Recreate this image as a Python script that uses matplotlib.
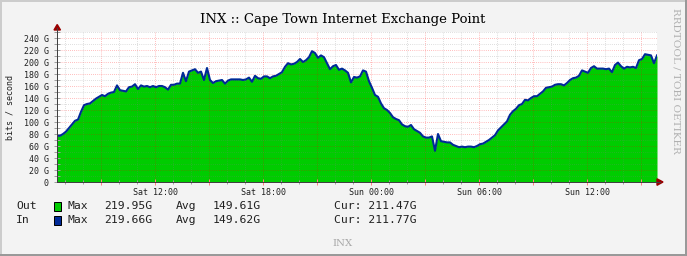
import numpy as np
import matplotlib.pyplot as plt
from matplotlib.lines import Line2D
from matplotlib.patches import Polygon, Rectangle
from matplotlib.ticker import MultipleLocator, FuncFormatter

W, H = 687, 256

title = "INX :: Cape Town Internet Exchange Point"
start_hour = 6 + 33.33 / 60   # Sat 06:33
step_hours = 10 / 60          # one reading every 10 minutes
day_names = ["Sat", "Sun"]

# traffic in Gbit/s (Out and In overlap almost exactly)
traffic_gbps = [
    77, 77, 80, 84, 90, 96, 102, 104, 117, 128,
    130, 131, 135, 139, 142, 145, 143, 147, 149, 150,
    161, 153, 152, 151, 158, 159, 163, 155, 161, 159,
    160, 158, 160, 158, 160,
    160, 158, 154, 162, 162, 164, 164, 182, 168, 184,
    186, 188, 182, 184, 170, 190, 170, 165, 168, 169,
    170, 164, 169, 171, 171, 171, 171, 170, 171, 174,
    167, 177, 173,
    172, 176, 176, 173, 176, 177, 180, 183, 192, 198,
    196, 197, 200, 205, 200, 203, 208, 218, 215, 207,
    211, 208, 198, 188, 193, 195, 187, 189, 186, 182,
    166, 175, 174,
    176, 186, 184, 168, 157, 145, 142, 131, 123, 120,
    115, 108, 105, 103, 96, 93, 92, 95, 88, 85,
    82, 76, 74, 74, 76, 52, 80, 68, 67, 66,
    66, 62, 60, 58,
    59, 58, 59, 59, 58, 60, 63, 64, 67, 70,
    74, 78, 86, 91, 96, 101, 112, 118, 122, 128,
    130, 137, 136, 140, 143, 143, 147, 151, 157, 158,
    159, 162, 163,
    163, 161, 165, 170, 173, 174, 177, 186, 184, 182,
    190, 193, 189, 189, 189, 188, 189, 183, 195, 199,
    193, 189, 192, 191, 192, 190, 203, 205, 213, 212,
    211, 198, 211,
]

series_names = ["Out", "In"]
max_vals = ["219.95G", "219.66G"]
avg_vals = ["149.61G", "149.62G"]
cur_vals = ["211.47G", "211.77G"]

GREEN = "#00cc00"
BLUE = "#002a97"
MONO = "DejaVu Sans Mono"
SERIF = "DejaVu Serif"


def fx(x):
    return x / W


def fy(y):
    return 1 - y / H


def main():
    fig = plt.figure(figsize=(W / 100, H / 100), dpi=100, facecolor="#f3f3f3")
    ax = fig.add_axes([fx(57), fy(182), 600 / W, 150 / H])
    ax.set_facecolor("white")

    hours = start_hour + step_hours * np.arange(len(traffic_gbps))
    ax.fill_between(hours, traffic_gbps, 0, color=GREEN, linewidth=0, zorder=1)
    ax.plot(hours, traffic_gbps, color=BLUE, lw=1.5, zorder=3)

    ax.set_xlim(hours[0], hours[-1])
    ax.set_ylim(0, 250)

    ax.xaxis.set_major_locator(MultipleLocator(3))
    ax.xaxis.set_minor_locator(MultipleLocator(1))
    ax.yaxis.set_major_locator(MultipleLocator(20))
    ax.yaxis.set_minor_locator(MultipleLocator(10))

    def xfmt(v, pos):
        h = int(round(v))
        if h % 6:
            return ""
        return f"{day_names[h // 24]} {h % 24:02d}:00"

    def yfmt(v, pos):
        return "0" if v == 0 else f"{v:.0f} G"

    ax.xaxis.set_major_formatter(FuncFormatter(xfmt))
    ax.yaxis.set_major_formatter(FuncFormatter(yfmt))

    ax.set_axisbelow(False)
    dots = (0, (0.7, 1.4))
    ax.grid(which="major", color="#ff0000", alpha=0.35, lw=0.72, ls=dots)
    ax.grid(which="minor", color="#808080", alpha=0.35, lw=0.72, ls=dots)

    for s in ax.spines.values():
        s.set_visible(False)

    ax.tick_params(axis="both", which="both", direction="inout",
                   labelsize=6, labelcolor="#202020", width=0.72)
    ax.tick_params(axis="x", which="major", length=4, color="#ff8080", pad=2)
    ax.tick_params(axis="x", which="minor", length=3, color="#a0a0a0")
    ax.tick_params(axis="y", which="both", length=4, color="#a0a0a0", pad=4)
    for lab in ax.get_xticklabels() + ax.get_yticklabels():
        lab.set_family(MONO)

    # axis lines and arrows
    fig.add_artist(Line2D([fx(57), fx(57)], [fy(182), fy(28)], color="#404040", lw=0.72))
    fig.add_artist(Line2D([fx(57), fx(660)], [fy(182), fy(182)], color="#404040", lw=0.72))
    fig.add_artist(Polygon([(fx(54), fy(30)), (fx(60.5), fy(30)), (fx(57.2), fy(24.5))],
                           closed=True, color="#990000", transform=fig.transFigure))
    fig.add_artist(Polygon([(fx(657), fy(178.8)), (fx(657), fy(185.3)), (fx(663), fy(182))],
                           closed=True, color="#990000", transform=fig.transFigure))

    fig.text(fx(10), fy(107), "bits / second", rotation=90, family=MONO,
             size=6, ha="center", va="center", color="#202020")
    fig.text(fx(343), fy(20), title, family=SERIF, size=9.5, ha="center", va="center")
    fig.text(fx(676), fy(81), "RRDTOOL / TOBI OETIKER", rotation=270, family=SERIF,
             size=7.5, ha="center", va="center", color="#b0b0b0")
    fig.text(fx(343), fy(243), "INX", family=SERIF, size=7.3, ha="center",
             va="center", color="#a8a8a8")

    colors = [GREEN, BLUE]
    for i, name in enumerate(series_names):
        y = 206 + 14 * i
        kw = dict(family=MONO, size=8.2, va="center", ha="left", color="#202020")
        fig.text(fx(16), fy(y), name, **kw)
        fig.add_artist(Rectangle((fx(53.5), fy(y + 4.5)), 7 / W, 9 / H,
                                 facecolor=colors[i], edgecolor="black", lw=0.72,
                                 transform=fig.transFigure))
        fig.text(fx(67), fy(y), "Max", **kw)
        fig.text(fx(104), fy(y), max_vals[i], **kw)
        fig.text(fx(176), fy(y), "Avg", **kw)
        fig.text(fx(213), fy(y), avg_vals[i], **kw)
        fig.text(fx(334), fy(y), f"Cur: {cur_vals[i]}", **kw)

    # shaded border
    for (x0, y0, w, h, c) in [(0, 0, 2, H, "#cccccc"), (0, 0, W, 2, "#cccccc"),
                              (W - 2, 0, 2, H, "#999999"), (0, H - 2, W, 2, "#999999")]:
        fig.add_artist(Rectangle((fx(x0), fy(y0 + h)), w / W, h / H, facecolor=c,
                                 edgecolor="none", transform=fig.transFigure))

    fig.savefig("out.png", dpi=100, facecolor=fig.get_facecolor())


if __name__ == "__main__":
    main()
